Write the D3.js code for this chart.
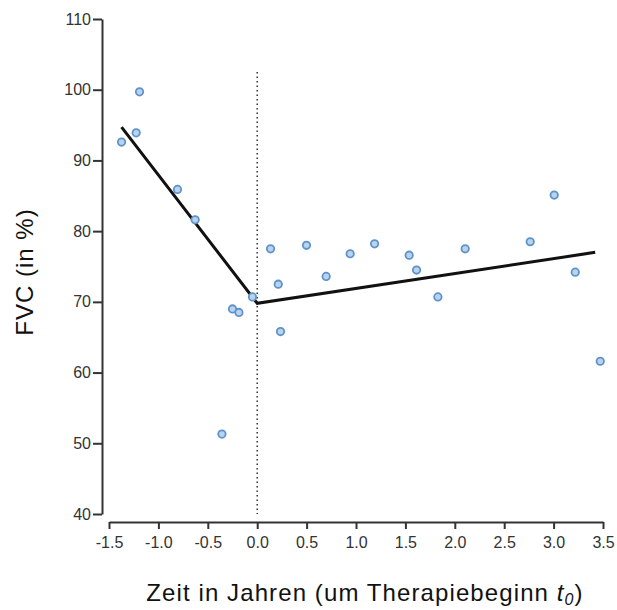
<!DOCTYPE html>
<html>
<head>
<meta charset="utf-8">
<script src="https://cdn.jsdelivr.net/npm/d3@7"></script>
<style>
  html, body { margin: 0; padding: 0; background: #fff; }
  svg { display: block; font-family: "Liberation Sans", Arial, sans-serif; }
</style>
</head>
<body>
<svg id="chart" width="617" height="610"></svg>
<script>
// Observed FVC values (percent) by time relative to therapy start (years)
const timeYears = [-1.373, -1.225, -1.191, -0.807, -0.628, -0.357, -0.25, -0.185, -0.048,
                   0.135, 0.213, 0.236, 0.499, 0.698, 0.941, 1.188, 1.538, 1.613, 1.829,
                   2.105, 2.763, 3.006, 3.219, 3.472];
const fvcPercent = [92.6, 93.9, 99.7, 85.9, 81.6, 51.3, 69.0, 68.5, 70.7,
                    77.5, 72.5, 65.8, 78.0, 73.6, 76.8, 78.2, 76.6, 74.5, 70.7,
                    77.5, 78.5, 85.1, 74.2, 61.6];

// Piecewise linear fit: before and after therapy start
const fitX = [-1.373, 0, 3.421];
const fitY = [94.7, 69.8, 77.0];

const xTicks = [-1.5, -1.0, -0.5, 0.0, 0.5, 1.0, 1.5, 2.0, 2.5, 3.0, 3.5];
const yTicks = [40, 50, 60, 70, 80, 90, 100, 110];

const svg = d3.select("#chart");

const x = d3.scaleLinear().domain([-1.5, 3.5]).range([109, 603]);
const y = d3.scaleLinear().domain([40, 110]).range([514, 19]);

// Y axis (detached, to the left of the plot region)
const yAxis = svg.append("g")
  .attr("transform", "translate(102,0)")
  .call(d3.axisLeft(y).tickValues(yTicks).tickSize(9).tickPadding(2).tickSizeOuter(0));
yAxis.select(".domain").attr("stroke", "#333").attr("stroke-width", 2);
yAxis.selectAll(".tick line").attr("stroke", "#333").attr("stroke-width", 2);
yAxis.selectAll(".tick text").attr("font-size", 16).attr("fill", "#333")
  .attr("font-family", "Liberation Sans, Arial, sans-serif");

// X axis (detached, below the plot region)
const xAxis = svg.append("g")
  .attr("transform", "translate(0,522)")
  .call(d3.axisBottom(x).tickValues(xTicks).tickFormat(d3.format(".1f"))
    .tickSize(7).tickPadding(8).tickSizeOuter(0));
xAxis.select(".domain").attr("stroke", "#333").attr("stroke-width", 2);
xAxis.selectAll(".tick line").attr("stroke", "#333").attr("stroke-width", 2);
xAxis.selectAll(".tick text").attr("font-size", 16).attr("fill", "#333")
  .attr("font-family", "Liberation Sans, Arial, sans-serif")
  .text(d => d3.format(".1f")(d).replace("−", "-"));

// Vertical reference line at therapy start
svg.append("line")
  .attr("x1", x(0)).attr("x2", x(0))
  .attr("y1", y(102.5)).attr("y2", y(40))
  .attr("stroke", "#333").attr("stroke-width", 1.5)
  .attr("stroke-dasharray", "1.5,3");

// Fitted segments
const line = d3.line().x(d => x(d[0])).y(d => y(d[1]));
svg.append("path")
  .datum(d3.zip(fitX, fitY))
  .attr("d", line)
  .attr("fill", "none")
  .attr("stroke", "#111")
  .attr("stroke-width", 3);

// Observations
svg.append("g").selectAll("circle")
  .data(d3.zip(timeYears, fvcPercent))
  .join("circle")
  .attr("cx", d => x(d[0]))
  .attr("cy", d => y(d[1]))
  .attr("r", 3.7)
  .attr("fill", "#b9d3ee")
  .attr("stroke", "#5e93c9")
  .attr("stroke-width", 1.8);

// Axis titles
svg.append("text")
  .attr("transform", "translate(33,272) rotate(-90)")
  .attr("text-anchor", "middle")
  .attr("font-size", 24)
  .attr("letter-spacing", 1)
  .attr("fill", "#111")
  .text("FVC (in %)");

const xt = svg.append("text")
  .attr("x", 365).attr("y", 601)
  .attr("text-anchor", "middle")
  .attr("font-size", 24)
  .attr("letter-spacing", 1.1)
  .attr("fill", "#111");
xt.append("tspan").text("Zeit in Jahren (um Therapiebeginn ");
xt.append("tspan").attr("font-style", "italic").text("t");
xt.append("tspan").attr("font-style", "italic").attr("font-size", 16).attr("dy", 4).text("0");
xt.append("tspan").attr("dy", -4).text(")");
</script>
</body>
</html>
